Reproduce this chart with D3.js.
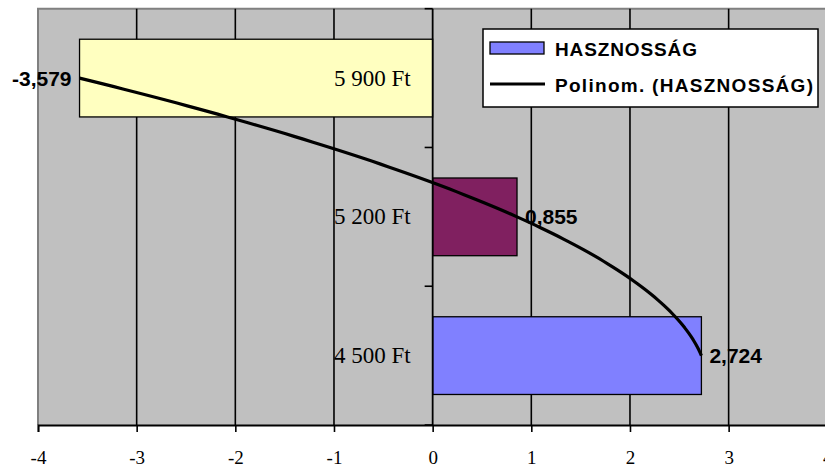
<!DOCTYPE html>
<html>
<head>
<meta charset="utf-8">
<script src="https://cdn.jsdelivr.net/npm/d3@7"></script>
<style>
  html, body { margin: 0; padding: 0; background: #fff; }
  svg { display: block; }
</style>
</head>
<body>
<svg id="chart" width="825" height="467"></svg>
<script>
// Categories listed top to bottom, with their HASZNOSSÁG values
const categories = ["5 900 Ft", "5 200 Ft", "4 500 Ft"];
const values = [-3.579, 0.855, 2.724];
const valueLabels = ["-3,579", "0,855", "2,724"];
const barColors = ["#FFFFC0", "#802060", "#8080FF"];
const xTicks = [-4, -3, -2, -1, 0, 1, 2, 3, 4];
const legendLabels = ["HASZNOSSÁG", "Polinom. (HASZNOSSÁG)"];

const svg = d3.select("#chart");
const plot = { left: 38, right: 827.3, top: 8.7, bottom: 425 };

const x = d3.scaleLinear().domain([-4, 4]).range([plot.left, plot.right]);
const y = d3.scaleBand().domain(categories).range([plot.top, plot.bottom])
  .paddingInner(0.44).paddingOuter(0.22);

// Plot area background
svg.append("rect")
  .attr("x", plot.left).attr("y", plot.top)
  .attr("width", plot.right - plot.left).attr("height", plot.bottom - plot.top)
  .attr("fill", "#C0C0C0");

// Plot area border (left and top)
svg.append("path")
  .attr("d", `M${plot.left},${plot.bottom} V${plot.top} H${plot.right}`)
  .attr("fill", "none").attr("stroke", "#808080").attr("stroke-width", 2);

// Vertical gridlines
svg.append("g").selectAll("line")
  .data(xTicks.filter(t => t > -4 && t < 4 && t !== 0))
  .join("line")
  .attr("x1", d => x(d)).attr("x2", d => x(d))
  .attr("y1", plot.top).attr("y2", plot.bottom)
  .attr("stroke", "#000").attr("stroke-width", 1.6);

// Bars
svg.append("g").selectAll("rect")
  .data(categories)
  .join("rect")
  .attr("x", (d, i) => x(Math.min(0, values[i])))
  .attr("y", d => y(d))
  .attr("width", (d, i) => Math.abs(x(values[i]) - x(0)))
  .attr("height", y.bandwidth())
  .attr("fill", (d, i) => barColors[i])
  .attr("stroke", "#000").attr("stroke-width", 1.3);

// Category axis at x = 0
const yAxisG = svg.append("g").attr("transform", `translate(${x(0)},0)`);
yAxisG.append("line")
  .attr("x1", 0).attr("x2", 0).attr("y1", plot.top).attr("y2", plot.bottom)
  .attr("stroke", "#000").attr("stroke-width", 1.8);
const step = y.step();
const boundaries = d3.range(categories.length + 1).map(i => plot.top + i * step);
yAxisG.selectAll("line.tick")
  .data(boundaries)
  .join("line").attr("class", "tick")
  .attr("x1", -8).attr("x2", 0)
  .attr("y1", d => d).attr("y2", d => d)
  .attr("stroke", "#000").attr("stroke-width", 1.6);

// Category labels
svg.append("g").selectAll("text")
  .data(categories)
  .join("text")
  .attr("x", x(0) - 22)
  .attr("y", d => y(d) + y.bandwidth() / 2)
  .attr("text-anchor", "end")
  .attr("dominant-baseline", "central")
  .attr("font-family", "'Liberation Serif', 'Times New Roman', serif")
  .attr("font-size", 23)
  .text(d => d);

// Value axis at the bottom
const xAxis = d3.axisBottom(x).tickValues(xTicks).tickSize(7).tickFormat(d3.format("d"));
const xAxisG = svg.append("g")
  .attr("transform", `translate(0,${plot.bottom})`)
  .call(xAxis);
xAxisG.select(".domain").attr("stroke", "#000").attr("stroke-width", 1.8);
xAxisG.selectAll(".tick line").attr("stroke", "#000").attr("stroke-width", 1.6);
xAxisG.selectAll(".tick text")
  .attr("font-family", "'Liberation Serif', 'Times New Roman', serif")
  .attr("font-size", 19)
  .attr("fill", "#000")
  .attr("dy", null)
  .attr("y", 32)
  .attr("dominant-baseline", "central")
  .text(d => d < 0 ? "-" + Math.abs(d) : d);

// Polynomial (order 2) trendline: value as a function of category index,
// index 1 = bottom category
const idx = categories.map((d, i) => categories.length - i);
function polyFit(xs, ys, order) {
  const n = order + 1;
  const A = d3.range(n).map(() => new Array(n + 1).fill(0));
  xs.forEach((xv, k) => {
    for (let r = 0; r < n; r++) {
      for (let c = 0; c < n; c++) A[r][c] += Math.pow(xv, r + c);
      A[r][n] += ys[k] * Math.pow(xv, r);
    }
  });
  for (let i = 0; i < n; i++) {
    let p = i;
    for (let r = i + 1; r < n; r++) if (Math.abs(A[r][i]) > Math.abs(A[p][i])) p = r;
    [A[i], A[p]] = [A[p], A[i]];
    for (let r = 0; r < n; r++) {
      if (r === i) continue;
      const f = A[r][i] / A[i][i];
      for (let c = i; c <= n; c++) A[r][c] -= f * A[i][c];
    }
  }
  return d3.range(n).map(i => A[i][n] / A[i][i]);
}
const coef = polyFit(idx, values, 2);
const poly = t => coef.reduce((s, c, k) => s + c * Math.pow(t, k), 0);
const catPos = d3.scaleLinear()
  .domain([1, categories.length])
  .range([y(categories[categories.length - 1]) + y.bandwidth() / 2, y(categories[0]) + y.bandwidth() / 2]);
const tSamples = d3.range(0, 101).map(i => 1 + i * (categories.length - 1) / 100);
svg.append("path")
  .datum(tSamples)
  .attr("d", d3.line().x(t => x(poly(t))).y(t => catPos(t)))
  .attr("fill", "none").attr("stroke", "#000").attr("stroke-width", 3.2)
  .attr("stroke-linejoin", "round");

// Data labels
svg.append("g").selectAll("text")
  .data(categories)
  .join("text")
  .attr("x", (d, i) => values[i] < 0 ? x(values[i]) - 8 : x(values[i]) + 8)
  .attr("y", d => y(d) + y.bandwidth() / 2)
  .attr("text-anchor", (d, i) => values[i] < 0 ? "end" : "start")
  .attr("dominant-baseline", "central")
  .attr("font-family", "'Liberation Sans', Arial, sans-serif")
  .attr("font-weight", "bold")
  .attr("font-size", 21)
  .text((d, i) => valueLabels[i]);

// Legend
const legendWidths = [142, 258];
const lg = svg.append("g").attr("transform", "translate(483,29)");
lg.append("rect")
  .attr("width", 335).attr("height", 78)
  .attr("fill", "#fff").attr("stroke", "#000").attr("stroke-width", 1.5);
lg.append("rect")
  .attr("x", 7).attr("y", 13).attr("width", 54).attr("height", 12)
  .attr("fill", barColors[2]).attr("stroke", "#000").attr("stroke-width", 1.3);
lg.append("line")
  .attr("x1", 7).attr("x2", 62).attr("y1", 55).attr("y2", 55)
  .attr("stroke", "#000").attr("stroke-width", 3.2);
lg.selectAll("text.leg")
  .data(legendLabels)
  .join("text").attr("class", "leg")
  .attr("x", 72)
  .attr("y", (d, i) => i === 0 ? 20 : 56)
  .attr("dominant-baseline", "central")
  .attr("font-family", "'Liberation Sans', Arial, sans-serif")
  .attr("font-weight", "bold")
  .attr("font-size", 19)
  .attr("textLength", (d, i) => legendWidths[i])
  .attr("lengthAdjust", "spacing")
  .text(d => d);
</script>
</body>
</html>
